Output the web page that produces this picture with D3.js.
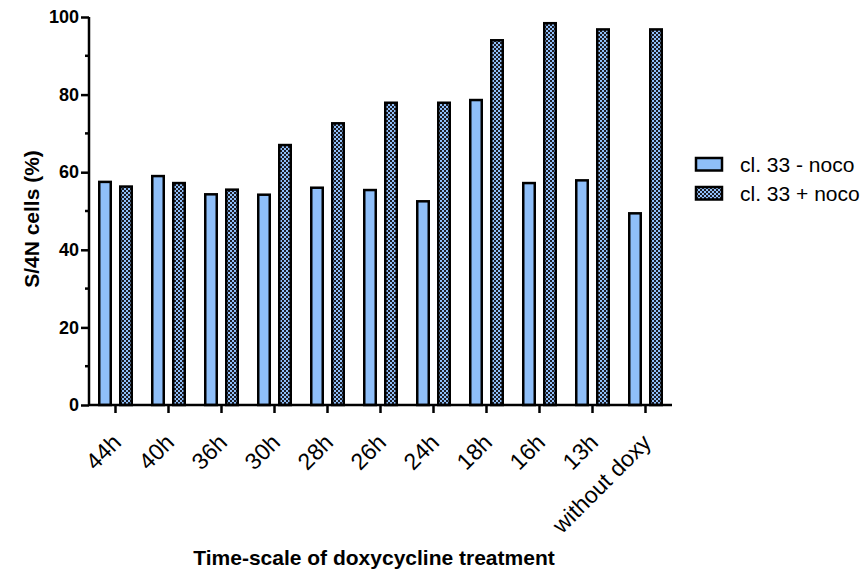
<!DOCTYPE html>
<html>
<head>
<meta charset="utf-8">
<script src="https://cdn.jsdelivr.net/npm/d3@7"></script>
<style>
  html, body { margin: 0; padding: 0; background: #fff; }
  svg { display: block; font-family: "Liberation Sans", Arial, sans-serif; }
</style>
</head>
<body>
<svg id="chart" width="864" height="574"></svg>
<script>
// Time points of doxycycline treatment
const categories = ["44h", "40h", "36h", "30h", "28h", "26h", "24h", "18h", "16h", "13h", "without doxy"];
// S/4N cells (%) per condition
const minusNoco = [57.5, 59.0, 54.3, 54.2, 56.0, 55.4, 52.5, 78.6, 57.2, 57.9, 49.4];
const plusNoco  = [56.3, 57.2, 55.5, 67.0, 72.6, 77.9, 77.9, 94.0, 98.4, 96.8, 96.8];
const seriesNames = ["cl. 33 - noco", "cl. 33 + noco"];
const yTicks = [0, 20, 40, 60, 80, 100];
const yMinorTicks = [10, 30, 50, 70, 90];

const svg = d3.select("#chart");
const blue = "#8fbff9";
const font = "Liberation Sans, Arial, sans-serif";

// Checkered fill for the "+ noco" series
const defs = svg.append("defs");
const pat = defs.append("pattern")
  .attr("id", "checker")
  .attr("patternUnits", "userSpaceOnUse")
  .attr("width", 4).attr("height", 4);
pat.append("rect").attr("width", 4).attr("height", 4).attr("fill", "#1c1c24");
pat.append("rect").attr("x", 0).attr("y", 0).attr("width", 2).attr("height", 2).attr("fill", blue);
pat.append("rect").attr("x", 2).attr("y", 2).attr("width", 2).attr("height", 2).attr("fill", blue);

const plotLeft = 89, plotRight = 672, plotTop = 17, plotBottom = 405;

const x = d3.scaleBand().domain(categories).range([plotLeft, plotRight]).paddingInner(0).paddingOuter(0);
const y = d3.scaleLinear().domain([0, 100]).range([plotBottom, plotTop]);

const barW = 11.5, gap = 9.5;

const rows = categories.map((c, i) => ({ c, a: minusNoco[i], b: plusNoco[i] }));

const g = svg.append("g");

// "- noco" bars
g.selectAll("rect.minus").data(rows).join("rect")
  .attr("class", "minus")
  .attr("x", d => x(d.c) + x.bandwidth() / 2 - gap / 2 - barW)
  .attr("y", d => y(d.a))
  .attr("width", barW)
  .attr("height", d => y(0) - y(d.a))
  .attr("fill", blue)
  .attr("stroke", "#000")
  .attr("stroke-width", 2.5);

// "+ noco" bars
g.selectAll("rect.plus").data(rows).join("rect")
  .attr("class", "plus")
  .attr("x", d => x(d.c) + x.bandwidth() / 2 + gap / 2)
  .attr("y", d => y(d.b))
  .attr("width", barW)
  .attr("height", d => y(0) - y(d.b))
  .attr("fill", "url(#checker)")
  .attr("stroke", "#000")
  .attr("stroke-width", 2.5);

// Y axis
const yAxis = svg.append("g").attr("transform", `translate(${plotLeft},0)`)
  .call(d3.axisLeft(y).tickValues(yTicks).tickSize(8).tickPadding(2).tickFormat(d3.format("d")));
yAxis.select(".domain").attr("d", `M0,${plotTop}V${plotBottom}`).attr("stroke-width", 2.5);
yAxis.selectAll(".tick line").attr("stroke-width", 2.5);
yAxis.selectAll(".tick text").attr("font-size", 18).attr("font-weight", "bold").attr("fill", "#000")
  .attr("font-family", font);
svg.append("g").attr("transform", `translate(${plotLeft},0)`)
  .selectAll("line").data(yMinorTicks).join("line")
  .attr("x1", -4).attr("x2", 0)
  .attr("y1", d => y(d)).attr("y2", d => y(d))
  .attr("stroke", "#000").attr("stroke-width", 2.5);

// X axis
const xAxis = svg.append("g").attr("transform", `translate(0,${plotBottom})`)
  .call(d3.axisBottom(x).tickSize(8).tickSizeOuter(0));
xAxis.select(".domain").attr("d", `M${plotLeft},0H${plotRight}`).attr("stroke-width", 2.5);
xAxis.selectAll(".tick line").attr("stroke-width", 2.5);
xAxis.selectAll(".tick text")
  .attr("font-size", 23).attr("fill", "#000")
  .attr("font-family", font)
  .attr("text-anchor", "end")
  .attr("dy", null)
  .attr("y", 0)
  .attr("transform", "translate(7,39) rotate(-45)");

// Axis titles
svg.append("text")
  .attr("transform", `translate(39,219) rotate(-90)`)
  .attr("text-anchor", "middle")
  .attr("font-family", font)
  .attr("font-size", 21).attr("font-weight", "bold")
  .text("S/4N cells (%)");

svg.append("text")
  .attr("x", 374).attr("y", 565)
  .attr("text-anchor", "middle")
  .attr("font-family", font)
  .attr("font-size", 21).attr("font-weight", "bold")
  .text("Time-scale of doxycycline treatment");

// Legend
const legend = svg.append("g").attr("transform", "translate(696,158)");
const legItems = legend.selectAll("g").data(seriesNames).join("g")
  .attr("transform", (d, i) => `translate(0,${i * 29})`);
legItems.append("rect")
  .attr("width", 26).attr("height", 12.5)
  .attr("fill", (d, i) => i === 0 ? blue : "url(#checker)")
  .attr("stroke", "#000").attr("stroke-width", 2.5);
legItems.append("text")
  .attr("x", 44).attr("y", 14)
  .attr("font-family", font)
  .attr("font-size", 21)
  .text(d => d);
</script>
</body>
</html>
